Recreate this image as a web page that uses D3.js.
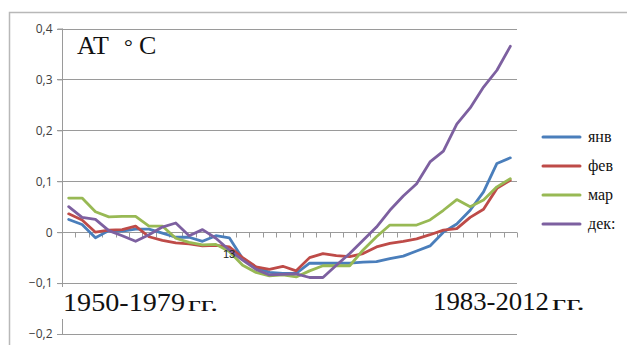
<!DOCTYPE html>
<html><head><meta charset="utf-8">
<script src="https://cdn.jsdelivr.net/npm/d3@7"></script>
<style>html,body{margin:0;padding:0;background:#fff;}svg{display:block;}</style>
</head><body>
<svg id="c" width="627" height="345"></svg>
<script>
const categories = d3.range(1, 35);
const yTicks = [0.4, 0.3, 0.2, 0.1, 0, -0.1, -0.2];
const seriesNames = ["янв", "фев", "мар", "дек:"];
const colors = ["#4a7ebb", "#be4b48", "#98b954", "#7d60a0"];
const jan = [0.025,0.015,-0.011,0.003,0.002,0.006,0.006,-0.002,-0.010,-0.010,-0.018,-0.007,-0.011,-0.052,-0.069,-0.079,-0.081,-0.081,-0.061,-0.061,-0.061,-0.061,-0.059,-0.058,-0.052,-0.047,-0.037,-0.027,0.000,0.016,0.043,0.079,0.135,0.146];
const feb = [0.036,0.024,0.000,0.004,0.005,0.012,-0.009,-0.016,-0.021,-0.023,-0.027,-0.026,-0.029,-0.050,-0.068,-0.073,-0.067,-0.076,-0.050,-0.042,-0.046,-0.048,-0.042,-0.029,-0.022,-0.018,-0.013,-0.005,0.004,0.007,0.029,0.045,0.086,0.102];
const mar = [0.067,0.067,0.040,0.030,0.031,0.031,0.012,0.012,-0.012,-0.020,-0.025,-0.024,-0.038,-0.065,-0.079,-0.086,-0.084,-0.088,-0.076,-0.066,-0.066,-0.066,-0.035,-0.009,0.014,0.014,0.014,0.024,0.043,0.064,0.050,0.063,0.089,0.105];
const dec = [0.050,0.029,0.025,0.003,-0.007,-0.018,-0.005,0.010,0.018,-0.007,0.005,-0.012,-0.035,-0.055,-0.073,-0.084,-0.083,-0.082,-0.089,-0.089,-0.065,-0.042,-0.016,0.010,0.043,0.071,0.095,0.138,0.159,0.212,0.244,0.285,0.318,0.365];
const series = [jan, feb, mar, dec];

const svg = d3.select("#c");
svg.append("path").attr("d","M9.5,345 V12.5 H627").attr("fill","none").attr("stroke","#b8b8b8").attr("stroke-width",1.5);

const x = d3.scaleBand().domain(categories).range([62, 517]);
const y = d3.scaleLinear().domain([-0.2, 0.4]).range([334, 28.5]);

svg.append("g").selectAll("line").data(yTicks).join("line")
  .attr("x1", 57).attr("x2", 517)
  .attr("y1", d => Math.round(y(d)) + 0.5).attr("y2", d => Math.round(y(d)) + 0.5)
  .attr("stroke", "#9a9a9a").attr("stroke-width", 1);

const ya = svg.append("g").attr("transform", "translate(62.5,0)")
  .call(d3.axisLeft(y).tickValues(yTicks).tickSize(5).tickFormat(d => d === 0 ? "0" : d3.format(".1f")(d).replace(".", ",")));
ya.select(".domain").attr("stroke", "#9a9a9a").attr("d", "M0,28.5V334");
ya.selectAll(".tick line").attr("stroke", "#9a9a9a");
ya.selectAll(".tick text").attr("font-family", "Open Sans, Liberation Sans, sans-serif").attr("font-size", 12).attr("fill", "#404040").attr("x", -10);

const xa = svg.append("g").attr("transform", `translate(0,${Math.round(y(0)) + 0.5})`);
xa.append("line").attr("x1", 62).attr("x2", 517).attr("stroke", "#9a9a9a");
xa.selectAll("line.t").data(d3.range(categories.length + 1)).join("line").attr("class","t")
  .attr("x1", i => Math.round(62 + i * x.step()) + 0.5)
  .attr("x2", i => Math.round(62 + i * x.step()) + 0.5)
  .attr("y1", 0).attr("y2", 5).attr("stroke", "#9a9a9a");

const line = d3.line().x((d,i) => x(categories[i]) + x.bandwidth()/2).y(d => y(d));
svg.append("g").selectAll("path").data(series).join("path")
  .attr("d", d => line(d)).attr("fill", "none")
  .attr("stroke", (d,i) => colors[i]).attr("stroke-width", 2.8)
  .attr("stroke-linejoin", "round").attr("stroke-linecap", "round");

svg.append("text").attr("x", 223).attr("y", 258).attr("font-family","Liberation Sans, sans-serif")
  .attr("font-size", 11).attr("fill", "#222").text("13");

const tf = "Liberation Serif, serif";
svg.append("text").attr("x", 77).attr("y", 54).attr("font-family", tf).attr("font-size", 26).attr("fill", "#111").text("AT");
svg.append("text").attr("x", 124).attr("y", 54).attr("font-family", tf).attr("font-size", 22).attr("fill", "#111").text("°");
svg.append("text").attr("x", 139).attr("y", 54).attr("font-family", tf).attr("font-size", 26).attr("fill", "#111").text("C");

svg.append("rect").attr("x", 58).attr("y", 287).attr("width", 165).attr("height", 32).attr("fill", "#fff");
function period(xs, yb, digits, wDigits, wg) {
  svg.append("text").attr("x", xs).attr("y", yb).attr("font-family", tf)
    .attr("font-size", 25).attr("fill", "#111").attr("textLength", wDigits).attr("lengthAdjust", "spacingAndGlyphs").text(digits);
  svg.append("text").attr("x", xs + wDigits + 3).attr("y", yb).attr("font-family", tf)
    .attr("font-size", 22).attr("fill", "#111").attr("textLength", wg).attr("lengthAdjust", "spacingAndGlyphs").text("гг.");
}
period(63, 311, "1950-1979", 122, 30);
period(433, 310, "1983-2012", 116, 33);

const lg = svg.append("g");
seriesNames.forEach((n, i) => {
  const yy = 137 + i * 29;
  lg.append("line").attr("x1", 543).attr("x2", 580).attr("y1", yy).attr("y2", yy)
    .attr("stroke", colors[i]).attr("stroke-width", 3).attr("stroke-linecap", "round");
  lg.append("text").attr("x", 588).attr("y", yy + 5).attr("font-family", tf)
    .attr("font-size", 16).attr("fill", "#111").text(n);
});
</script>
</body></html>
